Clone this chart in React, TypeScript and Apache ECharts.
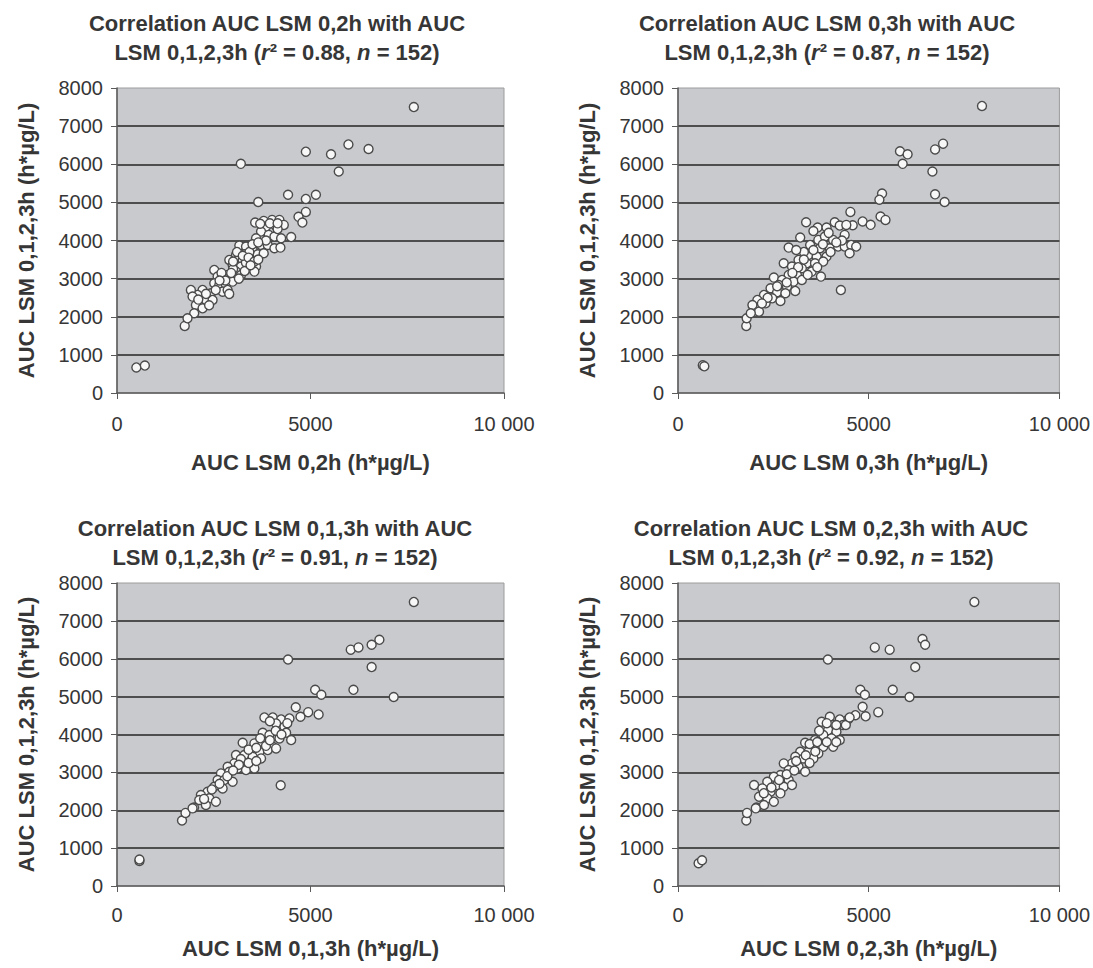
import React, { useEffect, useRef } from "react";
import * as echarts from "echarts";

// ---- Data ----
const xTickLabels: Record<number, string> = { 0: "0", 5000: "5000", 10000: "10 000" };
const yTicks = [0, 1000, 2000, 3000, 4000, 5000, 6000, 7000, 8000];

const titles = [
  { first: "Correlation AUC LSM 0,2h with AUC", r2: "0.88", n: "152" },
  { first: "Correlation AUC LSM 0,3h with AUC", r2: "0.87", n: "152" },
  { first: "Correlation AUC LSM 0,1,3h with AUC", r2: "0.91", n: "152" },
  { first: "Correlation AUC LSM 0,2,3h with AUC", r2: "0.92", n: "152" },
];
const xNames = [
  "AUC LSM 0,2h (h*µg/L)",
  "AUC LSM 0,3h (h*µg/L)",
  "AUC LSM 0,1,3h (h*µg/L)",
  "AUC LSM 0,2,3h (h*µg/L)",
];
const yName = "AUC LSM 0,1,2,3h (h*µg/L)";

const points02h: number[][] = [
  [7670, 7500], [4880, 6330], [5530, 6260], [5980, 6520], [6500, 6400], [5730, 5810], [3200, 6010],
  [3650, 5010], [4420, 5200], [5140, 5200], [4880, 5090], [4880, 4750], [4690, 4620], [4790, 4470],
  [4500, 4090], [3570, 4470], [500, 670], [720, 720], [1750, 1760],
  [3791, 4514], [4007, 4540], [4197, 4540], [4310, 4409], [4094, 4392], [3852, 4365], [3722, 4234],
  [3921, 4147], [4068, 4103], [4241, 4059], [3593, 4059], [3722, 3884], [3895, 3884], [4068, 3797],
  [4223, 3814], [3161, 3867], [3334, 3840], [3506, 3753], [3075, 3622], [3291, 3639], [3463, 3534],
  [3636, 3639], [3791, 3665], [2902, 3490], [3118, 3490], [3247, 3490], [2988, 3359], [3204, 3315],
  [3377, 3272], [3593, 3315], [3550, 3184], [3075, 3184], [2859, 3097], [2513, 3228], [2600, 3053],
  [2773, 3009], [2988, 3053], [3204, 3097], [2513, 2878], [2643, 2834], [2816, 2834], [2988, 2922],
  [2729, 2659], [2859, 2703], [2427, 2616], [2341, 2484], [2211, 2703], [2082, 2572], [1909, 2703],
  [1952, 2528], [2125, 2397], [2297, 2441], [2470, 2441], [2039, 2309], [2211, 2222], [1995, 2091],
  [1822, 1959], [3420, 3700], [3330, 3420], [2700, 3150], [2550, 2700], [3000, 3250], [3700, 4440],
  [4150, 4300], [3500, 3900], [2900, 2600], [2380, 2300],
  [3100, 3700], [3250, 3600], [3400, 3550], [3550, 3450], [3650, 3500], [3300, 3200], [3450, 3350],
  [2950, 3150], [2800, 2950], [3150, 3000], [3850, 4000], [3950, 4450], [4150, 4450], [3650, 3950],
  [2650, 2950], [2300, 2600], [2100, 2450], [3000, 3450],
];

const points03h: number[][] = [
  [7970, 7530], [5820, 6340], [6020, 6260], [5890, 6010], [6740, 6390], [6950, 6540], [6670, 5810],
  [6740, 5210], [6990, 5010], [5350, 5230], [5280, 5070], [4520, 4750], [5310, 4630], [5440, 4540],
  [4840, 4500], [5050, 4410], [4580, 4400], [4270, 2700], [650, 730], [690, 700], [1790, 1760], [1800, 1960],
  [3359, 4479], [3661, 4339], [3895, 4339], [4110, 4479], [4240, 4392], [4413, 4409], [3204, 4077],
  [3464, 3884], [3679, 4016], [3852, 4103], [4067, 4016], [4370, 4147], [2901, 3814], [3722, 3797],
  [3981, 3797], [4197, 3841], [4370, 3841], [4542, 3884], [4672, 3841], [4499, 3665], [3420, 3622],
  [3635, 3578], [3895, 3578], [3160, 3490], [3376, 3403], [3592, 3403], [3808, 3447], [2772, 3403],
  [2988, 3315], [3247, 3272], [3506, 3184], [3748, 3053], [3117, 3097], [2901, 3097], [2513, 3027],
  [2729, 2966], [3031, 2922], [3247, 2966], [2642, 2834], [2858, 2790], [2426, 2747], [2599, 2642],
  [2815, 2616], [3074, 2677], [2254, 2572], [2470, 2484], [2686, 2414], [2081, 2441], [2297, 2353],
  [1951, 2309], [2124, 2134], [1908, 2091],
  [3300, 3700], [3550, 3750], [3800, 3900], [4000, 3700], [3150, 3300], [3400, 3100], [3650, 3300],
  [2850, 2900], [3000, 3150], [2600, 2800], [2350, 2500], [4300, 4000], [4150, 3950], [3950, 4200],
  [3550, 4250], [2200, 2350], [3300, 3500], [3100, 3750],
];

const points013h: number[][] = [
  [7670, 7500], [4420, 5980], [6040, 6240], [6240, 6300], [6580, 6370], [6780, 6500], [6580, 5780],
  [6110, 5180], [7150, 4990], [5120, 5180], [5280, 5050], [5210, 4530], [4940, 4590], [4620, 4720],
  [4230, 2660], [580, 660], [580, 700], [1680, 1730], [1770, 1930], [1990, 2070],
  [3809, 4451], [4025, 4451], [4241, 4398], [4456, 4424], [4741, 4468], [4111, 4292], [4327, 4204],
  [3766, 4046], [3938, 3985], [4370, 4046], [4198, 3897], [4500, 3853], [3247, 3782], [3550, 3765],
  [3766, 3765], [4025, 3677], [3463, 3545], [3679, 3545], [3895, 3589], [4111, 3633], [3075, 3457],
  [3290, 3457], [3507, 3413], [3722, 3369], [3031, 3237], [3247, 3281], [2859, 3149], [3118, 3105],
  [3334, 3061], [3550, 3105], [2686, 2973], [2902, 3017], [2600, 2797], [2773, 2797], [2988, 2753],
  [2513, 2621], [2729, 2577], [2341, 2489], [2168, 2402], [2384, 2314], [2556, 2226], [2125, 2270],
  [2297, 2138], [1952, 2050],
  [3400, 3600], [3600, 3650], [3850, 3700], [3950, 3850], [3200, 3350], [3400, 3250], [3150, 3200],
  [2850, 2900], [3000, 3050], [2650, 2700], [2450, 2550], [4100, 4100], [4250, 4000], [3700, 3900],
  [3600, 3300], [2250, 2300], [3950, 4350], [4400, 4300],
];

const points023h: number[][] = [
  [7770, 7500], [3930, 5980], [5160, 6300], [5550, 6240], [6410, 6520], [6480, 6370], [6220, 5780],
  [5630, 5180], [6070, 4990], [4780, 5180], [4900, 5050], [4840, 4730], [5250, 4590], [4920, 4480],
  [4650, 4510], [540, 600], [630, 680], [1790, 1730], [1810, 1930], [2060, 2070],
  [4456, 4398], [4241, 4398], [3981, 4468], [3766, 4336], [4068, 4248], [4327, 4248], [3938, 4116],
  [4154, 4073], [3809, 3985], [4025, 3897], [4241, 3853], [3593, 3853], [3334, 3782], [3550, 3677],
  [3809, 3677], [4068, 3677], [3204, 3545], [3420, 3545], [3679, 3501], [3075, 3413], [3290, 3369],
  [3550, 3369], [2988, 3237], [3161, 3149], [3334, 3017], [2773, 3237], [2902, 3061], [2686, 2929],
  [2902, 2797], [2513, 2885], [2341, 2753], [2600, 2665], [2773, 2621], [2988, 2665], [1995, 2665],
  [2211, 2577], [2427, 2489], [2686, 2446], [2125, 2358], [2341, 2314], [2513, 2226], [2254, 2138],
  [2039, 2050],
  [3450, 3750], [3650, 3800], [3900, 3800], [4150, 3800], [3350, 3450], [3450, 3250], [3100, 3300],
  [2850, 2950], [3050, 3050], [2650, 2800], [2450, 2600], [4150, 4250], [4400, 4250], [3700, 4100],
  [3600, 3550], [2250, 2450], [3900, 4300], [4500, 4450],
];

const panelData = [points02h, points03h, points013h, points023h];

// ---- Layout ----
const FONT = "Liberation Sans, Arial, Helvetica, sans-serif";
const TEXT = "#363636";
const grids = [
  { left: 117, top: 88, width: 387, height: 305 },
  { left: 678, top: 88, width: 387, height: 305 },
  { left: 117, top: 583, width: 387, height: 303 },
  { left: 678, top: 583, width: 387, height: 303 },
];
const titlePos = [
  { left: 272, top: 4 },
  { left: 822, top: 4 },
  { left: 270, top: 509 },
  { left: 826, top: 509 },
];
const xLabelMargin = [21, 21, 19, 19];
const xNameGap = [58, 58, 51, 51];

function buildOption() {
  const richBase = { fontFamily: FONT, fontSize: 22, fontWeight: "bold" as const, color: TEXT, lineHeight: 29 };
  return {
    animation: false,
    backgroundColor: "#ffffff",
    title: titles.map((t, i) => ({
      text:
        `{b|${t.first}}\n` +
        `{b|LSM 0,1,2,3h (}{i|r}{b|² = ${t.r2}, }{i|n}{b| = ${t.n})}`,
      left: titlePos[i].left,
      top: titlePos[i].top,
      textAlign: "center",
      textStyle: {
        ...richBase,
        rich: {
          b: { ...richBase },
          i: { ...richBase, fontStyle: "italic" },
        },
      },
    })),
    grid: grids.map((g) => ({
      ...g,
      show: true,
      backgroundColor: "#c8cacd",
      borderColor: "#9c9c9c",
      borderWidth: 1,
      containLabel: false,
    })),
    xAxis: grids.map((_, i) => ({
      type: "value",
      gridIndex: i,
      min: 0,
      max: 10000,
      interval: 5000,
      name: xNames[i],
      nameLocation: "middle",
      nameGap: xNameGap[i],
      nameTextStyle: { fontFamily: FONT, fontSize: 22, fontWeight: "bold", color: TEXT },
      axisLine: { show: true, onZero: false, lineStyle: { color: "#5a5a5a", width: 1.5 } },
      axisTick: { show: true, length: 6, lineStyle: { color: "#5a5a5a" } },
      axisLabel: {
        margin: xLabelMargin[i],
        fontFamily: FONT,
        fontSize: 20,
        color: TEXT,
        formatter: (v: number) => xTickLabels[v] ?? String(v),
      },
      splitLine: { show: false },
    })),
    yAxis: grids.map((_, i) => ({
      type: "value",
      gridIndex: i,
      min: 0,
      max: 8000,
      interval: 1000,
      name: yName,
      nameLocation: "middle",
      nameGap: 80,
      nameTextStyle: { fontFamily: FONT, fontSize: 22, fontWeight: "bold", color: TEXT },
      axisLine: { show: true, onZero: false, lineStyle: { color: "#5a5a5a", width: 1.5 } },
      axisTick: { show: true, length: 6, lineStyle: { color: "#5a5a5a" } },
      axisLabel: {
        margin: 14,
        fontFamily: FONT,
        fontSize: 20,
        color: TEXT,
        formatter: (v: number) => (yTicks.includes(v) ? String(v) : ""),
      },
      splitLine: {
        show: true,
        showMinLine: false,
        showMaxLine: false,
        lineStyle: { color: "#4e4e4e", width: 2 },
      },
    })),
    series: panelData.map((d, i) => ({
      type: "scatter",
      xAxisIndex: i,
      yAxisIndex: i,
      data: d,
      symbol: "circle",
      symbolSize: 9,
      itemStyle: { color: "#f7f7f7", borderColor: "#4a4a4a", borderWidth: 1.4, opacity: 1 },
    })),
  };
}

export default function App() {
  const ref = useRef<HTMLDivElement>(null);
  useEffect(() => {
    if (!ref.current) return;
    const chart = echarts.init(ref.current, undefined, { renderer: "svg" });
    chart.setOption(buildOption() as any);
    return () => chart.dispose();
  }, []);
  return (
    <div
      ref={ref}
      style={{ position: "absolute", left: 0, top: 0, width: 1093, height: 968, background: "#fff" }}
    />
  );
}
